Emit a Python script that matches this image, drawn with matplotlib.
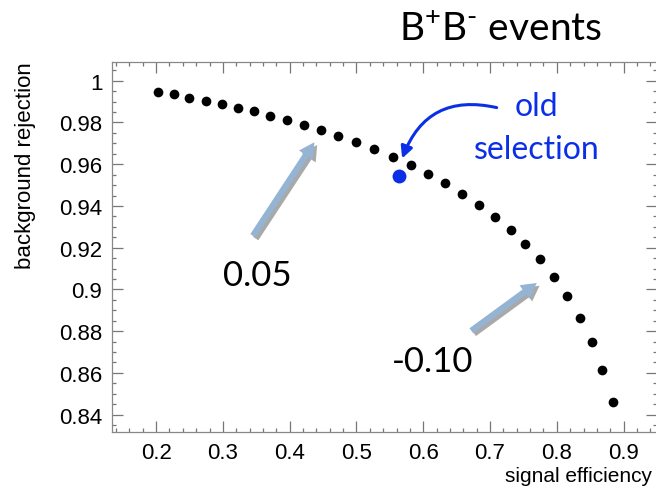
import numpy as np
import matplotlib.pyplot as plt
import matplotlib.patheffects as pe
from matplotlib.ticker import MultipleLocator

plt.rcParams['font.family'] = ['Liberation Sans', 'DejaVu Sans']
plt.rcParams['mathtext.fontset'] = 'custom'
plt.rcParams['mathtext.rm'] = 'Lato'

# signal efficiency vs background rejection (scan points)
sig_eff = [0.203, 0.227, 0.250, 0.274, 0.298, 0.322, 0.346, 0.371, 0.396, 0.422,
           0.447, 0.473, 0.500, 0.527, 0.555, 0.581, 0.607, 0.633, 0.658, 0.683,
           0.707, 0.731, 0.753, 0.775, 0.796, 0.815, 0.834, 0.852, 0.868, 0.884]
bkg_rej = [0.9948, 0.9934, 0.9918, 0.9902, 0.9888, 0.9869, 0.9853, 0.9831, 0.9812, 0.9788,
           0.9762, 0.9735, 0.9705, 0.9671, 0.9636, 0.9596, 0.9552, 0.9508, 0.9458, 0.9405,
           0.9346, 0.9286, 0.9217, 0.9144, 0.9061, 0.8968, 0.8863, 0.8747, 0.8614, 0.8462]

old_sel = (0.563, 0.9543)

# cut value annotations: (label, text pos, arrow tail, arrow tip)
cut_labels = ["0.05", "-0.10"]
cut_text_pos = [(0.351, 0.9069), (0.614, 0.8657)]
cut_arrow_tail = [(0.345, 0.9257), (0.672, 0.8802)]
cut_arrow_tip = [(0.437, 0.9705), (0.770, 0.9031)]

fig = plt.figure(figsize=(6.56, 4.89), dpi=100)
ax = fig.add_axes([112/656, 1 - 433/489, 545/656, (433 - 62.7)/489])

ax.plot(sig_eff, bkg_rej, 'o', color='black', ms=7, mec='none')
ax.plot(*old_sel, 'o', color='#0a2fe6', ms=10, mec='none', zorder=3)

ax.set_xlim(0.134, 0.95)
ax.set_ylim(0.8317, 1.0091)
ax.xaxis.set_major_locator(MultipleLocator(0.1))
ax.xaxis.set_minor_locator(MultipleLocator(0.02))
ax.yaxis.set_major_locator(MultipleLocator(0.02))
ax.yaxis.set_minor_locator(MultipleLocator(0.005))
ax.xaxis.set_major_formatter(plt.FuncFormatter(lambda v, p: f"{v:g}"))
ax.yaxis.set_major_formatter(plt.FuncFormatter(lambda v, p: f"{v:g}"))

ax.tick_params(which='both', direction='in', top=True, right=True,
               color='#777777', width=0.9, labelsize=16, pad=7)
ax.tick_params(which='major', length=8)
ax.tick_params(which='minor', length=3.2)
for s in ax.spines.values():
    s.set_color('#888888')
    s.set_linewidth(0.9)

fig.text(26/656, 1 - 166/489, "background rejection", rotation=90,
         ha='center', va='center', fontsize=16)
fig.text(652/656, 3/489, "signal efficiency", ha='right', va='bottom', fontsize=15)

fig.text(501/656, 1 - 30/489, r"B$^{+}$B$^{\text{-}}$ events", ha='center', va='center',
         fontsize=28, family='Lato')

# old selection annotation
ax.text(0.7695, 0.9879, "old", color='#0a2fe6', fontsize=23, family='Lato',
        ha='center', va='center')
ax.text(0.7695, 0.9673, "selection", color='#0a2fe6', fontsize=23, family='Lato',
        ha='center', va='center')
ax.annotate("", xy=(0.567, 0.9615), xytext=(0.714, 0.9868),
            arrowprops=dict(arrowstyle='-|>,head_width=0.35,head_length=0.7',
                            color='#0a2fe6', lw=2.2,
                            connectionstyle='arc3,rad=0.45'))

shadow = [pe.SimplePatchShadow(offset=(2, -2), shadow_rgbFace='#555555', alpha=0.5),
          pe.Normal()]
for lab, tp, tail, tip in zip(cut_labels, cut_text_pos, cut_arrow_tail, cut_arrow_tip):
    ax.text(tp[0], tp[1], lab, fontsize=25, family='Lato', ha='center', va='center')
    ax.annotate("", xy=tip, xytext=tail,
                arrowprops=dict(arrowstyle='simple,head_width=1.2,head_length=1.1,tail_width=0.45',
                                fc='#95b4d4', ec='none', shrinkA=0, shrinkB=0,
                                path_effects=shadow))

fig.savefig("out.png", dpi=100)
